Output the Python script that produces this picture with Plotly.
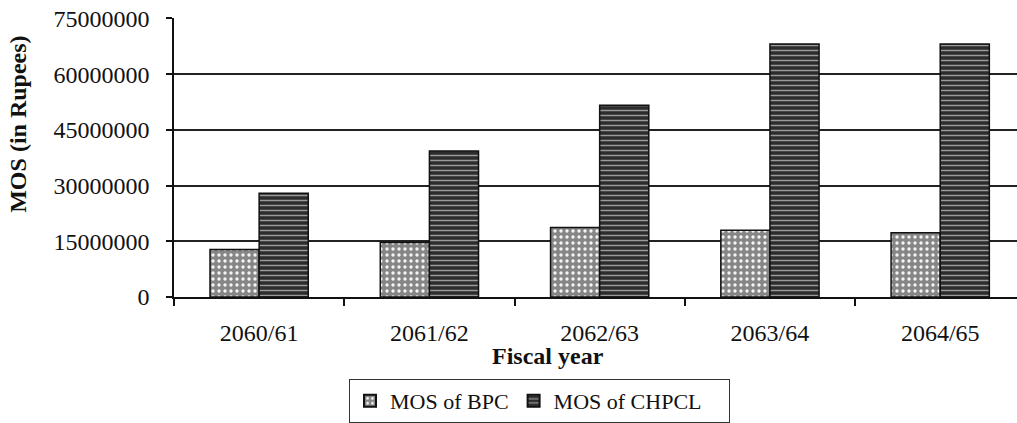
import plotly.graph_objects as go

years = ["2060/61", "2061/62", "2062/63", "2063/64", "2064/65"]
mos_bpc = [12800000, 14700000, 18700000, 18000000, 17300000]
mos_chpcl = [27900000, 39300000, 51600000, 68100000, 68100000]
y_ticks = [0, 15000000, 30000000, 45000000, 60000000, 75000000]
series_names = ["MOS of BPC", "MOS of CHPCL\u00a0\u00a0\u00a0\u00a0"]

FONT = "Liberation Serif, Times New Roman, serif"

fig = go.Figure()
fig.add_trace(go.Bar(
    x=years, y=mos_bpc, name=series_names[0],
    marker=dict(color="#8a8a8a", line=dict(color="#111111", width=1.5),
                pattern=dict(shape=".", fgcolor="#f4f4f4", bgcolor="#868686",
                             size=6, solidity=0.25, fillmode="replace")),
))
fig.add_trace(go.Bar(
    x=years, y=mos_chpcl, name=series_names[1],
    marker=dict(color="#2e2e2e", line=dict(color="#111111", width=1.5),
                pattern=dict(shape="-", fgcolor="#9a9a9a", bgcolor="#2c2c2c",
                             size=5, solidity=0.3, fillmode="replace")),
))

fig.update_layout(
    width=1017, height=423,
    margin=dict(l=174, r=0, t=18, b=125),
    paper_bgcolor="white", plot_bgcolor="white",
    font=dict(family=FONT, size=24, color="#111111"),
    barmode="group", bargap=0.423, bargroupgap=0,
    showlegend=True,
    legend=dict(orientation="h", x=0.2076, y=-0.293, xanchor="left", yanchor="top",
                bordercolor="#333333", borderwidth=1, bgcolor="white",
                font=dict(family=FONT, size=22, color="#111111"),
                itemsizing="constant"),
    xaxis=dict(type="category", range=[-0.5, 4.451], tickson="boundaries",
               ticks="outside", ticklen=7, tickwidth=1.5, tickcolor="#111111",
               showline=True, linecolor="#111111", linewidth=1.5,
               showgrid=False, ticklabelstandoff=13,
               tickfont=dict(family=FONT, size=24, color="#111111")),
    yaxis=dict(range=[0, 75100000], tickvals=y_ticks, tickformat="d",
               ticks="outside", ticklen=6, tickwidth=1.5, tickcolor="#111111",
               showline=True, linecolor="#111111", linewidth=1.5,
               showgrid=True, gridcolor="#222222", gridwidth=1.5,
               zeroline=False, ticklabelstandoff=12,
               tickfont=dict(family=FONT, size=24, color="#111111")),
    annotations=[
        dict(text="<b>MOS (in Rupees)</b>", xref="paper", yref="paper",
             x=-0.186, y=0.618, xanchor="center", yanchor="middle",
             textangle=-90, showarrow=False,
             font=dict(family=FONT, size=24, color="#111111")),
        dict(text="<b>Fiscal year</b>", xref="paper", yref="paper",
             x=0.4437, y=-0.2107, xanchor="center", yanchor="middle",
             showarrow=False,
             font=dict(family=FONT, size=24, color="#111111")),
    ],
)

fig.write_html("out.html",
               config={"displayModeBar": False},
               post_script="document.body.style.margin='0';document.body.style.overflow='hidden';")
